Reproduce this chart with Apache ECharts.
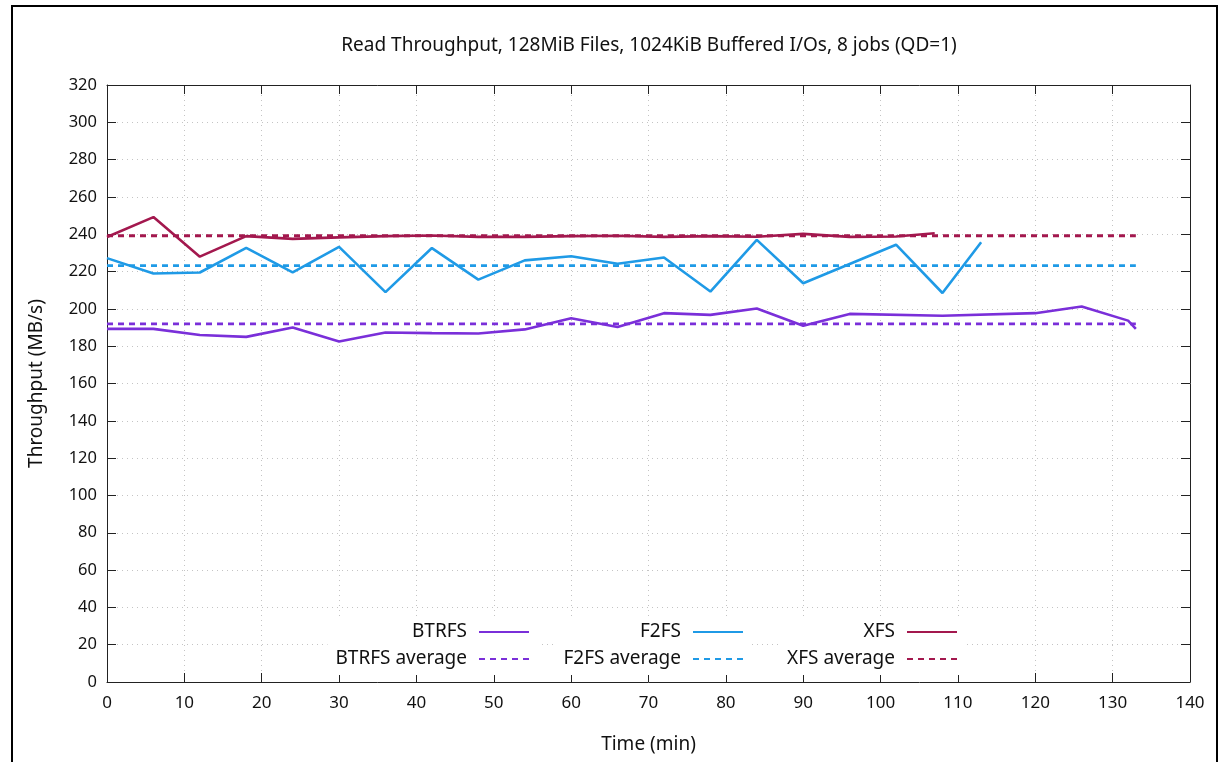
<!DOCTYPE html>
<html>
<head>
<meta charset="utf-8">
<script src="https://cdn.jsdelivr.net/npm/echarts@6/dist/echarts.min.js"></script>
<style>
html, body { margin: 0; padding: 0; background: #fff; overflow: hidden; }
#main { width: 1223px; height: 762px; }
#frame { position: absolute; left: 11px; top: 5px; width: 1203px; height: 800px; border: 2px solid #000; pointer-events: none; }
</style>
</head>
<body>
<div id="main"></div>
<div id="frame"></div>
<script>
// 数据
var titleText = 'Read Throughput, 128MiB Files, 1024KiB Buffered I/Os, 8 jobs (QD=1)';

var timeBtrfs = [0, 6, 12, 18, 24, 30, 36, 42, 48, 54, 60, 66, 72, 78, 84, 90, 96, 108, 120, 126, 132, 133];
var btrfs = [189.3, 189.3, 186, 185, 190, 182.5, 187.3, 187, 186.8, 189, 195, 190.3, 197.7, 196.8, 200.2, 191, 197.3, 196.3, 197.7, 201.3, 193.7, 189.3];

var timeF2fs = [0, 6, 12, 18, 24, 30, 36, 42, 48, 54, 60, 66, 72, 78, 84, 90, 102, 108, 113];
var f2fs = [227.2, 219, 219.5, 232.7, 219.6, 233.2, 209, 232.6, 215.7, 226, 228.2, 224.2, 227.5, 209.3, 237, 213.7, 234.4, 208.5, 235.7];

var timeXfs = [0, 6, 12, 18, 24, 30, 36, 42, 48, 54, 60, 66, 72, 78, 84, 90, 96, 102, 107];
var xfs = [238.5, 249.2, 228, 239, 237.5, 238.3, 239, 239.3, 238.6, 238.6, 239, 239.2, 238.6, 239, 238.7, 240.2, 238.6, 238.8, 240.5];

var avgSpan = [0, 133];
var avgBtrfs = 192;
var avgF2fs = 223.2;
var avgXfs = 239.2;

var colBtrfs = '#7a2fd9';
var colF2fs = '#1f9ae6';
var colXfs = '#a3184e';
var font = 'Noto Sans';

function pairs(xs, ys) {
    return xs.map(function (x, i) { return [x, ys[i]]; });
}
function flat(v) {
    return avgSpan.map(function (x) { return [x, v]; });
}

function solid(name, color, data) {
    return {
        name: name, type: 'line', data: data, symbol: 'none', showSymbol: false, color: color,
        lineStyle: { color: color, width: 2.6 }, animation: false, z: 3
    };
}
function dashed(name, color, v) {
    return {
        name: name, type: 'line', data: flat(v), symbol: 'none', showSymbol: false, color: color,
        lineStyle: { color: color, width: 2.8, type: [6, 5] }, animation: false, z: 2
    };
}

// 图例
function legendCol(names, right) {
    return {
        orient: 'vertical', align: 'right', right: right, top: 616,
        padding: [5, 8], itemGap: 5, itemWidth: 50, itemHeight: 14,
        backgroundColor: '#fff', selectedMode: false, data: names,
        itemStyle: { opacity: 0 },
        textStyle: { fontFamily: font, fontSize: 19, color: '#111', lineHeight: 22, padding: [0, 7, 0, 0] }
    };
}

var axisLineStyle = { color: '#222', width: 1 };
var gridLine = { show: true, lineStyle: { color: '#c4c4c4', width: 1, type: [1, 4] } };

var option = {
    animation: false,
    backgroundColor: '#fff',
    title: {
        text: titleText, left: 644, top: 31, textAlign: 'center',
        textStyle: { fontFamily: font, fontSize: 19, fontWeight: 'normal', color: '#111' }
    },
    grid: { left: 107, right: 33, top: 85, bottom: 80 },
    legend: [
        legendCol(['BTRFS', 'BTRFS average'], 685),
        legendCol(['F2FS', 'F2FS average'], 471),
        legendCol(['XFS', 'XFS average'], 257)
    ],
    xAxis: [
        {
            type: 'value', position: 'bottom', min: 0, max: 140, interval: 10,
            name: 'Time (min)', nameLocation: 'middle', nameGap: 53,
            nameTextStyle: { fontFamily: font, fontSize: 19, color: '#111' },
            axisLine: { show: true, onZero: false, lineStyle: axisLineStyle },
            axisTick: { show: true, inside: true, length: 9, lineStyle: axisLineStyle },
            axisLabel: { margin: 13, fontFamily: font, fontSize: 17, color: '#111' },
            splitLine: gridLine
        },
        {
            type: 'value', position: 'top', min: 0, max: 140, interval: 10,
            axisLine: { show: true, onZero: false, lineStyle: axisLineStyle },
            axisTick: { show: true, inside: true, length: 9, lineStyle: axisLineStyle },
            axisLabel: { show: false },
            splitLine: { show: false }
        }
    ],
    yAxis: [
        {
            type: 'value', position: 'left', min: 0, max: 320, interval: 20,
            name: 'Throughput (MB/s)', nameLocation: 'middle', nameGap: 61,
            nameTextStyle: { fontFamily: font, fontSize: 19, color: '#111' },
            axisLine: { show: true, onZero: false, lineStyle: axisLineStyle },
            axisTick: { show: true, inside: true, length: 9, lineStyle: axisLineStyle },
            axisLabel: { margin: 10, fontFamily: font, fontSize: 16.5, color: '#111' },
            splitLine: gridLine
        },
        {
            type: 'value', position: 'right', min: 0, max: 320, interval: 20,
            axisLine: { show: true, onZero: false, lineStyle: axisLineStyle },
            axisTick: { show: true, inside: true, length: 9, lineStyle: axisLineStyle },
            axisLabel: { show: false },
            splitLine: { show: false }
        }
    ],
    series: [
        solid('BTRFS', colBtrfs, pairs(timeBtrfs, btrfs)),
        dashed('BTRFS average', colBtrfs, avgBtrfs),
        solid('F2FS', colF2fs, pairs(timeF2fs, f2fs)),
        dashed('F2FS average', colF2fs, avgF2fs),
        solid('XFS', colXfs, pairs(timeXfs, xfs)),
        dashed('XFS average', colXfs, avgXfs)
    ]
};

var myChart = echarts.init(document.getElementById('main'));
myChart.setOption(option);
</script>
</body>
</html>
